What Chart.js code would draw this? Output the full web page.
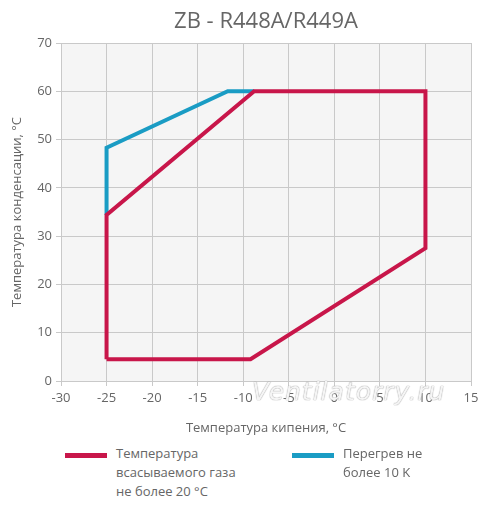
<!DOCTYPE html>
<html>
<head>
<meta charset="utf-8">
<script src="https://cdn.jsdelivr.net/npm/chart.js@4/dist/chart.umd.min.js"></script>
<style>
  html, body { margin: 0; padding: 0; background: #fff; }
  #wrap { position: relative; width: 500px; height: 508px; font-family: "Open Sans", sans-serif; }
  canvas { position: absolute; left: 0; top: 0; }
  #legend { position: absolute; left: 0; top: 444px; width: 500px; }
  .item { position: absolute; top: 0; display: flex; align-items: flex-start; }
  .swatch { width: 42px; height: 5px; margin-top: 9px; margin-right: 9px; }
  .txt { font-size: 13px; line-height: 19px; color: #666; }
  #wm { position: absolute; left: 252px; top: 377px; font-family: "DejaVu Sans", sans-serif; font-style: italic; font-size: 25px; color: rgba(255,255,255,0.9); text-shadow: 0 0 1px #999, 0 0 1px #aaa; letter-spacing: 1px; pointer-events: none; }
</style>
</head>
<body>
<div id="wrap">
  <canvas id="c" width="500" height="440"></canvas>
  <div id="wm">Ventilatorry.ru</div>
  <div id="legend"></div>
</div>
<script>
const titleText = "ZB - R448A/R449A";
const xTitle = "Температура кипения, °C";
const yTitle = "Температура конденсации, °C";

const redLabel = ["Температура", "всасываемого газа", "не более 20 °C"];
const redX = [-25, -9.2, 10, 10, -8.8, -25, -25];
const redY = [4.5, 4.5, 27.5, 60, 60, 34.4, 4.5];

const blueLabel = ["Перегрев не", "более 10 K"];
const blueX = [-25, -25, -11.7, -8.8];
const blueY = [34.4, 48.3, 60, 60];

const xMin = -30, xMax = 15, xStep = 5;
const yMin = 0, yMax = 70, yStep = 10;

const RED = "#c8164a";
const BLUE = "#1a9cc4";

function pts(xs, ys) { return xs.map((x, i) => ({ x: x, y: ys[i] })); }

const bgPlugin = {
  id: 'plotBg',
  beforeDraw(chart) {
    const a = chart.chartArea, ctx = chart.ctx;
    ctx.save();
    ctx.fillStyle = "#f5f5f5";
    ctx.fillRect(a.left, a.top, a.right - a.left, a.bottom - a.top);
    ctx.restore();
  },
  afterDraw(chart) {
    const a = chart.chartArea, ctx = chart.ctx;
    ctx.save();
    ctx.fillStyle = '#666';
    ctx.font = '22px "Open Sans"';
    ctx.textAlign = 'center';
    ctx.textBaseline = 'middle';
    ctx.fillText(titleText, (a.left + a.right) / 2, 22);
    ctx.restore();
  }
};

const chart = new Chart(document.getElementById('c'), {
  type: 'scatter',
  data: {
    datasets: [
      { label: redLabel.join(' '), data: pts(redX, redY), showLine: true, borderColor: RED, backgroundColor: RED, borderWidth: 4, pointRadius: 0, borderJoinStyle: 'miter', fill: false, tension: 0 },
      { label: blueLabel.join(' '), data: pts(blueX, blueY), showLine: true, borderColor: BLUE, backgroundColor: BLUE, borderWidth: 4, pointRadius: 0, borderJoinStyle: 'miter', fill: false, tension: 0 }
    ]
  },
  options: {
    responsive: false,
    animation: false,
    devicePixelRatio: 1,
    layout: { padding: { left: 0, right: 29, top: 43, bottom: 0 } },
    plugins: {
      legend: { display: false },
      tooltip: { enabled: false },
      title: { display: false }
    },
    scales: {
      x: {
        type: 'linear', min: xMin, max: xMax,
        ticks: { stepSize: xStep, color: '#666', font: { family: 'Open Sans', size: 13 }, padding: 4 },
        grid: { color: '#c9c9c9', tickLength: 5, lineWidth: 1 },
        border: { color: '#c9c9c9' },
        title: { display: true, text: xTitle, color: '#666', font: { family: 'Open Sans', size: 13 }, padding: { top: 6 } },
        afterFit(s) { s.height = 59; }
      },
      y: {
        type: 'linear', min: yMin, max: yMax,
        ticks: { stepSize: yStep, color: '#666', font: { family: 'Open Sans', size: 13 }, padding: 4 },
        grid: { color: '#c9c9c9', tickLength: 5, lineWidth: 1 },
        border: { color: '#c9c9c9' },
        title: { display: true, text: yTitle, color: '#666', font: { family: 'Open Sans', size: 13 }, padding: { top: 9, bottom: 4 } },
        afterFit(s) { s.width = 61; }
      }
    }
  },
  plugins: [bgPlugin]
});

// HTML legend with wrapped labels, built from datasets
const legendLines = [redLabel, blueLabel];
const legendX = [65, 292];
const legend = document.getElementById('legend');
chart.data.datasets.forEach((ds, i) => {
  const item = document.createElement('div');
  item.className = 'item';
  item.style.left = legendX[i] + 'px';
  const sw = document.createElement('div');
  sw.className = 'swatch';
  sw.style.background = ds.borderColor;
  const t = document.createElement('div');
  t.className = 'txt';
  t.innerHTML = legendLines[i].join('<br>');
  item.appendChild(sw); item.appendChild(t);
  legend.appendChild(item);
});
</script>
</body>
</html>
